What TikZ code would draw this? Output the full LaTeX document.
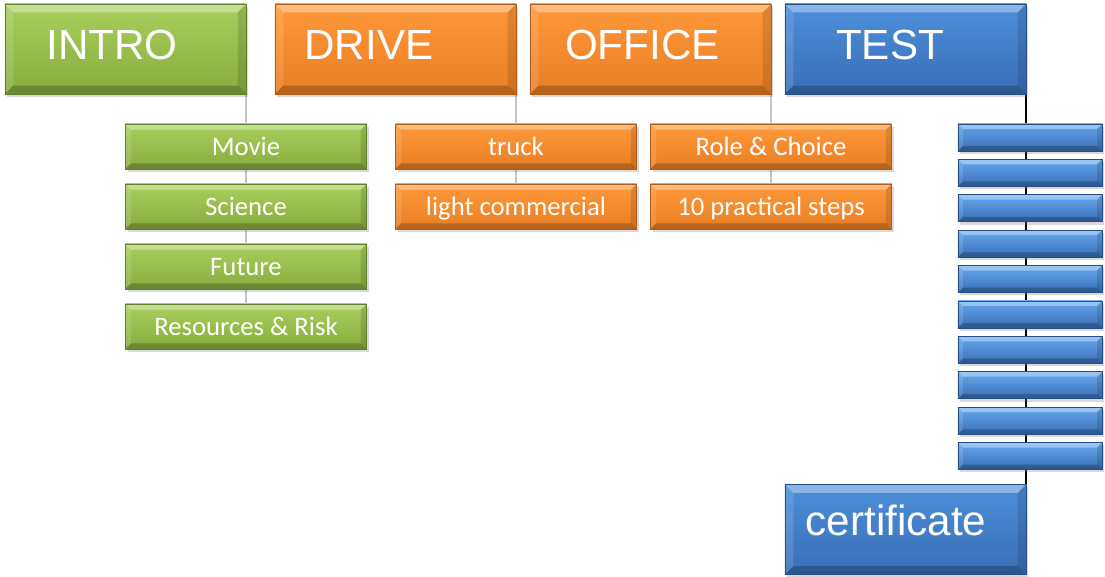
\documentclass[tikz,border=0pt]{standalone}
\usepackage{fontspec}
\setmainfont{Carlito}
\newfontfamily\headfont{Liberation Sans}
\usetikzlibrary{shadows,backgrounds}

\definecolor{greenTop}{RGB}{168,207,92}
\definecolor{greenBot}{RGB}{136,172,62}
\definecolor{greenEdge}{RGB}{98,128,44}
\definecolor{orangeTop}{RGB}{255,153,58}
\definecolor{orangeBot}{RGB}{233,126,36}
\definecolor{orangeEdge}{RGB}{178,92,24}
\definecolor{blueTop}{RGB}{78,143,218}
\definecolor{blueBot}{RGB}{57,110,182}
\definecolor{blueEdge}{RGB}{38,78,138}
\definecolor{barTop}{RGB}{102,168,238}
\definecolor{spineGrey}{RGB}{165,165,165}

\tikzset{
  % beveled face drawn inside the box
  bevel/.style={path picture={
    \path (path picture bounding box.north west) coordinate (bnw)
          (path picture bounding box.north east) coordinate (bne)
          (path picture bounding box.south west) coordinate (bsw)
          (path picture bounding box.south east) coordinate (bse);
    \fill[white, opacity=.35] (bnw) -- (bne) -- ([xshift=-#1,yshift=-#1]bne)
      -- ([xshift=#1,yshift=-#1]bnw) -- cycle;
    \fill[white, opacity=.12] (bnw) -- ([xshift=#1,yshift=-#1]bnw)
      -- ([xshift=#1,yshift=#1]bsw) -- (bsw) -- cycle;
    \fill[black, opacity=.12] (bne) -- (bse) -- ([xshift=-#1,yshift=#1]bse)
      -- ([xshift=-#1,yshift=-#1]bne) -- cycle;
    \fill[black, opacity=.22] (bsw) -- ([xshift=#1,yshift=#1]bsw)
      -- ([xshift=-#1,yshift=#1]bse) -- (bse) -- cycle;
  }},
  box/.style={rectangle, inner sep=0pt, outer sep=0pt, line width=.5pt,
    drop shadow={shadow xshift=1.5pt, shadow yshift=-2pt, opacity=.3}},
  greenfill/.style={top color=greenTop, bottom color=greenBot, draw=greenEdge},
  orangefill/.style={top color=orangeTop, bottom color=orangeBot, draw=orangeEdge},
  bluefill/.style={top color=blueTop, bottom color=blueBot, draw=blueEdge},
  topbox/.style={box, bevel=6pt, minimum width=6.025cm, minimum height=2.25cm},
  subbox/.style={box, bevel=4pt, minimum width=6.025cm, minimum height=1.125cm,
    text=white, font=\fontsize{19}{22}\selectfont, text height=12.2pt, text depth=0pt},
  barbox/.style={box, bevel=3.5pt, bluefill, top color=barTop,
    minimum width=3.6cm, minimum height=.675cm},
  headline/.style={anchor=base, text=white, inner sep=0pt,
    font=\headfont\fontsize{30}{36}\selectfont},
  spine/.style={draw=spineGrey, line width=1pt}
}

\begin{document}
\begin{tikzpicture}[x=0.025cm, y=-0.025cm]
  \useasboundingbox (0,0) rectangle (1105,577);

  % Main sections
  \node[topbox, greenfill] (intro) at (125.5,49) {};
  \node[topbox, orangefill] (drive) at (395.5,49) {};
  \node[topbox, orangefill] (office) at (650.5,49) {};
  \node[topbox, bluefill] (test) at (905.5,49) {};
  \node[topbox, bluefill] (cert) at (905.5,529.5) {};

  % Section titles
  \node[headline] (introtitle) at (112,60) {INTRO};
  \node[headline] (drivetitle) at (369,60) {DRIVE};
  \node[headline] (officetitle) at (642.5,60) {OFFICE};
  \node[headline] (testtitle) at (890,60) {TEST};
  \node[headline] (certtitle) at (896,535) {certificate};

  % Topics
  \node[subbox, greenfill] (movie) at (246,146.5) {Movie};
  \node[subbox, greenfill] (science) at (246,206.5) {Science};
  \node[subbox, greenfill] (future) at (246,266.5) {Future};
  \node[subbox, greenfill] (risk) at (246,326.5) {Resources \& Risk};
  \node[subbox, orangefill] (truck) at (516,146.5) {truck};
  \node[subbox, orangefill] (light) at (516,206.5) {light commercial};
  \node[subbox, orangefill] (role) at (771,146.5) {Role \& Choice};
  \node[subbox, orangefill] (steps) at (771,206.5) {10 practical steps};

  % Test questions
  \node[barbox] (q1) at (1030,137.5) {};
  \node[barbox] (q2) at (1030,172.9) {};
  \node[barbox] (q3) at (1030,208.3) {};
  \node[barbox] (q4) at (1030,243.7) {};
  \node[barbox] (q5) at (1030,279.1) {};
  \node[barbox] (q6) at (1030,314.5) {};
  \node[barbox] (q7) at (1030,349.9) {};
  \node[barbox] (q8) at (1030,385.3) {};
  \node[barbox] (q9) at (1030,420.7) {};
  \node[barbox] (q10) at (1030,456.1) {};

  % Edges
  \begin{scope}[on background layer]
    \draw[spine] (intro.south east) -- (risk.north);
    \draw[spine] (drive.south east) -- (light.north);
    \draw[spine] (office.south east) -- (steps.north);
    \draw[line width=1.4pt] (test.south east) -- (cert.north east);
  \end{scope}
\end{tikzpicture}
\end{document}
